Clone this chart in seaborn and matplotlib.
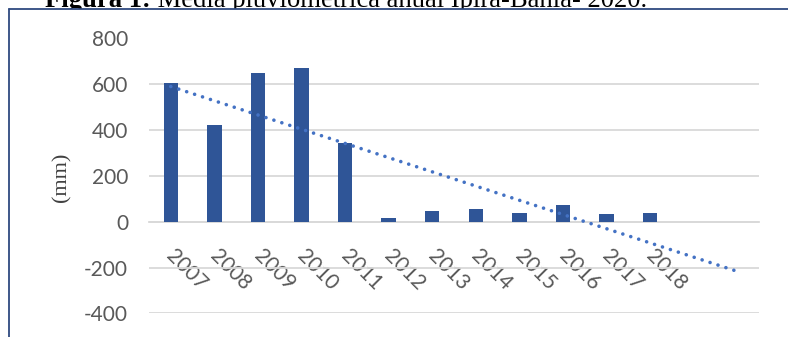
import numpy as np
import pandas as pd
import matplotlib
matplotlib.use("Agg")
import matplotlib.pyplot as plt
import matplotlib.transforms as mtransforms
from matplotlib.lines import Line2D
from matplotlib.patches import Rectangle
import seaborn as sns

years = ["2007", "2008", "2009", "2010", "2011", "2012", "2013", "2014",
         "2015", "2016", "2017", "2018"]
rain_mm = [604, 422, 648, 670, 344, 15, 48, 55, 37, 72, 32, 39]
trend_forward = 2
y_ticks = [-400, -200, 0, 200, 400, 600, 800]
title_bold = "Figura 1:"
title_rest = " Média pluviométrica anual Ipirá-Bahia- 2020."
y_label = "(mm)"

df = pd.DataFrame({"ano": years, "mm": rain_mm})

sns.set_theme(style="white")
plt.rcParams["font.family"] = ["Lato", "DejaVu Sans"]

W, H = 788, 337
fig = plt.figure(figsize=(W / 100, H / 100), dpi=100)
ax = fig.add_axes([149 / W, 1 - 313.3 / H, 610 / W, (313.3 - 38.5) / H])
ax.set_zorder(0)

sns.barplot(data=df, x="ano", y="mm", color="#2F5597", width=0.33,
            saturation=1, ax=ax, zorder=3, edgecolor="none")

# linear trend (like Excel), forecast forward
xi = np.arange(len(rain_mm))
coef = np.polyfit(xi, rain_mm, 1)
xt = np.array([0, len(rain_mm) - 1 + trend_forward])
ax.plot(xt, np.polyval(coef, xt), color="#4472C4", lw=2.6,
        linestyle=(0, (0.01, 2.3)), dash_capstyle="round", zorder=4)

ax.set_xlim(-0.5, len(rain_mm) - 0.5 + trend_forward)
ax.set_ylim(-400, 800)
ax.set_yticks(y_ticks)
ax.set_yticklabels([str(v) for v in y_ticks])
ax.yaxis.grid(True, color="#D9D9D9", lw=1.3)
ax.set_axisbelow(True)
for s in ["left", "right", "top"]:
    ax.spines[s].set_visible(False)
ax.spines["bottom"].set_position(("data", 0))
ax.spines["bottom"].set_color("#D9D9D9")
ax.spines["bottom"].set_linewidth(1.3)
ax.spines["bottom"].set_zorder(2)

ax.tick_params(axis="both", length=0, colors="#595959", labelsize=15)
ax.tick_params(axis="y", pad=15)
ax.tick_params(axis="x", pad=17)
ax.set_xticks(xi)
ax.set_xticklabels(years, rotation=-45, ha="left", va="top",
                   rotation_mode="anchor")
off = mtransforms.ScaledTranslation(6 / 100, 0, fig.dpi_scale_trans)
for lab in ax.get_xticklabels():
    lab.set_transform(lab.get_transform() + off)
ax.set_xlabel("")
ax.set_ylabel(y_label, fontfamily="Liberation Serif", fontsize=16,
              color="#404040")
ax.yaxis.set_label_coords(-0.127, 0.496)

# title (cut off at the top, as in the reference)
base_y = 1 - 7.3 / H
t1 = fig.text(45 / W, base_y, title_bold, fontfamily="Liberation Serif",
              fontweight="bold", fontsize=17, va="baseline", ha="left",
              color="black", zorder=-2)
fig.canvas.draw()
r = fig.canvas.get_renderer()
t2 = fig.text(0, base_y, title_rest, fontfamily="Liberation Serif",
              fontsize=17, va="baseline", ha="left", color="black", zorder=-2)
w1 = t1.get_window_extent(r).width
w2 = t2.get_window_extent(r).width
scale = 602 / (w1 + w2)
fs = 17 * scale
t1.set_fontsize(fs)
t2.set_fontsize(fs)
fig.canvas.draw()
w1 = t1.get_window_extent(r).width
t2.set_x((45 + w1) / W)

fig.patches.append(Rectangle((0, 0), 1, 1 - 9.3 / H, transform=fig.transFigure,
                             facecolor="white", edgecolor="none", zorder=-1))
# frame of the chart
fig.lines.append(Line2D([8.5 / W, 8.5 / W], [0, 1 - 9.3 / H],
                        transform=fig.transFigure, color="#2F4A80", lw=1.3,
                        zorder=5))
fig.lines.append(Line2D([8.5 / W, 1], [1 - 9.3 / H, 1 - 9.3 / H],
                        transform=fig.transFigure, color="#2F4A80", lw=1.3,
                        zorder=5))

fig.savefig("out.png", dpi=100)
